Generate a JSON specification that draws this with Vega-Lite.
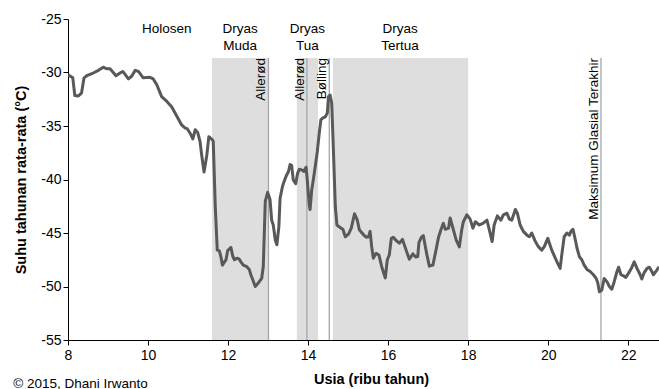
{
  "$schema": "https://vega.github.io/schema/vega-lite/v6.json",
  "width": 591,
  "height": 321,
  "autosize": {"type": "none"},
  "padding": {"left": 68, "top": 19, "right": 0, "bottom": 49},
  "background": "white",
  "config": {
    "view": {"stroke": null},
    "font": "Liberation Sans",
    "axis": {
      "domainColor": "#000000",
      "tickColor": "#000000",
      "labelColor": "#000000",
      "titleColor": "#000000",
      "grid": false,
      "tickSize": 5,
      "labelFontSize": 14,
      "labelFont": "Liberation Sans",
      "titleFont": "Liberation Sans",
      "titleFontSize": 14.5,
      "titleFontWeight": "bold"
    }
  },
  "datasets": {
    "regions": [
      {"name": "Dryas Muda", "start": 11.6, "end": 13.0},
      {"name": "Dryas Tua", "start": 13.72, "end": 14.25},
      {"name": "Dryas Tertua", "start": 14.62, "end": 18.0}
    ],
    "events": [
      {"label": "Allerød", "age": 13.01},
      {"label": "Allerød", "age": 13.97},
      {"label": "Bølling", "age": 14.53},
      {"label": "Maksimum Glasial Terakhir", "age": 21.32}
    ],
    "periods": [
      {"label": "Holosen", "age": 10.47},
      {"label": "Dryas\nMuda", "age": 12.3},
      {"label": "Dryas\nTua", "age": 13.98},
      {"label": "Dryas\nTertua", "age": 16.3}
    ],
    "temps": [
      {"age": 8.0, "temp": -30.2}, {"age": 8.12, "temp": -30.5}, {"age": 8.17, "temp": -32.15}, {"age": 8.26, "temp": -32.2},
      {"age": 8.34, "temp": -31.9}, {"age": 8.4, "temp": -30.5}, {"age": 8.47, "temp": -30.3}, {"age": 8.63, "temp": -30.05},
      {"age": 8.76, "temp": -29.8}, {"age": 8.88, "temp": -29.5}, {"age": 8.97, "temp": -29.65}, {"age": 9.05, "temp": -29.65},
      {"age": 9.2, "temp": -30.3}, {"age": 9.3, "temp": -30.05}, {"age": 9.37, "temp": -29.9}, {"age": 9.51, "temp": -30.6},
      {"age": 9.59, "temp": -30.35}, {"age": 9.68, "temp": -29.8}, {"age": 9.76, "temp": -29.9}, {"age": 9.88, "temp": -30.5},
      {"age": 10.05, "temp": -30.45}, {"age": 10.13, "temp": -30.6}, {"age": 10.22, "temp": -31.15}, {"age": 10.34, "temp": -32.25},
      {"age": 10.47, "temp": -32.7}, {"age": 10.59, "temp": -33.2}, {"age": 10.7, "temp": -33.95}, {"age": 10.84, "temp": -34.9},
      {"age": 10.93, "temp": -35.2}, {"age": 10.98, "temp": -35.25}, {"age": 11.07, "temp": -35.8}, {"age": 11.12, "temp": -36.2},
      {"age": 11.18, "temp": -35.35}, {"age": 11.24, "temp": -35.6}, {"age": 11.3, "temp": -36.45}, {"age": 11.34, "temp": -37.7},
      {"age": 11.4, "temp": -39.3}, {"age": 11.47, "temp": -37.7}, {"age": 11.52, "temp": -36.0}, {"age": 11.61, "temp": -36.3},
      {"age": 11.63, "temp": -36.45}, {"age": 11.68, "temp": -42.5}, {"age": 11.73, "temp": -46.6}, {"age": 11.78, "temp": -46.65},
      {"age": 11.82, "temp": -47.2}, {"age": 11.86, "temp": -48.0}, {"age": 11.91, "temp": -47.7}, {"age": 11.95, "temp": -47.5},
      {"age": 11.99, "temp": -46.65}, {"age": 12.07, "temp": -46.35}, {"age": 12.12, "temp": -47.2}, {"age": 12.16, "temp": -47.5},
      {"age": 12.22, "temp": -47.35}, {"age": 12.28, "temp": -47.45}, {"age": 12.32, "temp": -47.7}, {"age": 12.38, "temp": -48.0},
      {"age": 12.47, "temp": -48.15}, {"age": 12.53, "temp": -48.4}, {"age": 12.57, "temp": -48.9}, {"age": 12.62, "temp": -49.4},
      {"age": 12.68, "temp": -50.0}, {"age": 12.76, "temp": -49.65}, {"age": 12.84, "temp": -49.25}, {"age": 12.88, "temp": -48.15},
      {"age": 12.93, "temp": -42.05}, {"age": 12.99, "temp": -41.2}, {"age": 13.05, "temp": -41.9}, {"age": 13.09, "temp": -43.8},
      {"age": 13.13, "temp": -44.25}, {"age": 13.18, "temp": -45.65}, {"age": 13.22, "temp": -46.1}, {"age": 13.27, "temp": -44.4},
      {"age": 13.3, "temp": -41.75}, {"age": 13.36, "temp": -40.65}, {"age": 13.4, "temp": -40.2}, {"age": 13.45, "temp": -39.7},
      {"age": 13.51, "temp": -39.25}, {"age": 13.55, "temp": -38.6}, {"age": 13.59, "temp": -38.7}, {"age": 13.63, "temp": -40.05},
      {"age": 13.69, "temp": -40.4}, {"age": 13.74, "temp": -39.4}, {"age": 13.78, "temp": -39.05}, {"age": 13.84, "temp": -39.1},
      {"age": 13.9, "temp": -39.25}, {"age": 13.95, "temp": -38.85}, {"age": 13.98, "temp": -40.05}, {"age": 14.03, "temp": -42.4},
      {"age": 14.05, "temp": -42.8}, {"age": 14.09, "temp": -41.0}, {"age": 14.13, "temp": -40.05}, {"age": 14.19, "temp": -38.5},
      {"age": 14.23, "temp": -37.4}, {"age": 14.28, "temp": -35.65}, {"age": 14.32, "temp": -34.4}, {"age": 14.37, "temp": -34.25},
      {"age": 14.43, "temp": -34.15}, {"age": 14.48, "temp": -33.8}, {"age": 14.51, "temp": -32.25}, {"age": 14.55, "temp": -32.1},
      {"age": 14.59, "temp": -32.85}, {"age": 14.63, "temp": -36.9}, {"age": 14.68, "temp": -42.5}, {"age": 14.72, "temp": -44.25},
      {"age": 14.82, "temp": -44.55}, {"age": 14.87, "temp": -44.65}, {"age": 14.93, "temp": -45.35}, {"age": 15.01, "temp": -45.1},
      {"age": 15.08, "temp": -44.55}, {"age": 15.16, "temp": -43.2}, {"age": 15.23, "temp": -43.8}, {"age": 15.28, "temp": -44.7},
      {"age": 15.37, "temp": -45.1}, {"age": 15.45, "temp": -45.4}, {"age": 15.51, "temp": -45.35}, {"age": 15.55, "temp": -44.85},
      {"age": 15.59, "temp": -46.3}, {"age": 15.63, "temp": -47.35}, {"age": 15.7, "temp": -46.9}, {"age": 15.77, "temp": -47.05},
      {"age": 15.84, "temp": -48.15}, {"age": 15.93, "temp": -49.2}, {"age": 15.98, "temp": -47.5}, {"age": 16.03, "temp": -47.05},
      {"age": 16.08, "temp": -45.5}, {"age": 16.13, "temp": -45.4}, {"age": 16.2, "temp": -45.7}, {"age": 16.28, "temp": -45.95},
      {"age": 16.36, "temp": -45.6}, {"age": 16.45, "temp": -46.6}, {"age": 16.53, "temp": -47.45}, {"age": 16.62, "temp": -46.95},
      {"age": 16.69, "temp": -47.25}, {"age": 16.74, "temp": -47.2}, {"age": 16.77, "temp": -45.9}, {"age": 16.83, "temp": -45.4},
      {"age": 16.88, "temp": -45.25}, {"age": 16.97, "temp": -47.05}, {"age": 17.03, "temp": -48.1}, {"age": 17.12, "temp": -48.0},
      {"age": 17.18, "temp": -46.9}, {"age": 17.26, "temp": -45.4}, {"age": 17.32, "temp": -44.7}, {"age": 17.38, "temp": -44.1},
      {"age": 17.43, "temp": -44.65}, {"age": 17.51, "temp": -44.55}, {"age": 17.55, "temp": -43.6}, {"age": 17.62, "temp": -44.55},
      {"age": 17.7, "temp": -45.65}, {"age": 17.78, "temp": -46.3}, {"age": 17.84, "temp": -44.7}, {"age": 17.88, "temp": -43.95},
      {"age": 17.97, "temp": -43.3}, {"age": 18.05, "temp": -43.7}, {"age": 18.12, "temp": -44.55}, {"age": 18.18, "temp": -43.95},
      {"age": 18.28, "temp": -44.25}, {"age": 18.37, "temp": -44.1}, {"age": 18.47, "temp": -43.8}, {"age": 18.53, "temp": -44.7},
      {"age": 18.6, "temp": -45.8}, {"age": 18.65, "temp": -44.25}, {"age": 18.73, "temp": -43.4}, {"age": 18.82, "temp": -43.8},
      {"age": 18.88, "temp": -43.3}, {"age": 18.97, "temp": -43.15}, {"age": 19.03, "temp": -43.7}, {"age": 19.09, "temp": -43.8},
      {"age": 19.18, "temp": -42.8}, {"age": 19.23, "temp": -43.15}, {"age": 19.3, "temp": -44.25}, {"age": 19.38, "temp": -44.85},
      {"age": 19.47, "temp": -45.2}, {"age": 19.53, "temp": -45.35}, {"age": 19.59, "temp": -45.0}, {"age": 19.68, "temp": -45.8},
      {"age": 19.76, "temp": -46.3}, {"age": 19.84, "temp": -46.6}, {"age": 19.9, "temp": -46.3}, {"age": 19.99, "temp": -45.5},
      {"age": 20.09, "temp": -46.6}, {"age": 20.22, "temp": -47.7}, {"age": 20.3, "temp": -48.3}, {"age": 20.34, "temp": -47.05},
      {"age": 20.4, "temp": -45.35}, {"age": 20.47, "temp": -45.0}, {"age": 20.53, "temp": -45.2}, {"age": 20.57, "temp": -44.85},
      {"age": 20.62, "temp": -44.65}, {"age": 20.68, "temp": -45.65}, {"age": 20.72, "temp": -46.4}, {"age": 20.78, "temp": -47.2},
      {"age": 20.84, "temp": -47.5}, {"age": 20.9, "temp": -48.0}, {"age": 20.97, "temp": -48.4}, {"age": 21.05, "temp": -48.6},
      {"age": 21.13, "temp": -48.9}, {"age": 21.2, "temp": -49.25}, {"age": 21.24, "temp": -49.65}, {"age": 21.28, "temp": -50.5},
      {"age": 21.34, "temp": -50.35}, {"age": 21.4, "temp": -49.25}, {"age": 21.47, "temp": -49.55}, {"age": 21.53, "temp": -50.0},
      {"age": 21.59, "temp": -50.25}, {"age": 21.65, "temp": -49.55}, {"age": 21.72, "temp": -48.6}, {"age": 21.76, "temp": -48.2},
      {"age": 21.82, "temp": -48.9}, {"age": 21.88, "temp": -49.0}, {"age": 21.94, "temp": -49.15}, {"age": 22.01, "temp": -48.75},
      {"age": 22.08, "temp": -48.3}, {"age": 22.15, "temp": -47.7}, {"age": 22.22, "temp": -48.3}, {"age": 22.3, "temp": -48.9},
      {"age": 22.34, "temp": -49.3}, {"age": 22.4, "temp": -48.7}, {"age": 22.47, "temp": -48.3}, {"age": 22.53, "temp": -48.2},
      {"age": 22.59, "temp": -48.6}, {"age": 22.63, "temp": -48.9}, {"age": 22.72, "temp": -48.45}, {"age": 22.77, "temp": -48.15}
    ],
    "credit": [{"label": "© 2015, Dhani Irwanto", "age": 6.63, "temp": -58.5}]
  },
  "resolve": {"scale": {"x": "shared", "y": "shared"}},
  "layer": [
    {
      "data": {"name": "regions"},
      "mark": {"type": "rect", "color": "#dedede"},
      "encoding": {
        "x": {"field": "start", "type": "quantitative", "scale": {"domain": [8, 22.77], "nice": false, "zero": false},
              "axis": {"values": [8, 10, 12, 14, 16, 18, 20, 22], "title": "Usia (ribu tahun)", "labelPadding": 3, "titlePadding": 10, "titleX": 303, "labelFlush": false}},
        "x2": {"field": "end"},
        "y": {"datum": -28.65, "type": "quantitative", "scale": {"domain": [-55, -25], "nice": false, "zero": false},
              "axis": {"values": [-55, -50, -45, -40, -35, -30, -25], "labelExpr": "'' + datum.value", "title": "Suhu tahunan rata-rata (°C)", "labelPadding": 2, "titlePadding": 12}},
        "y2": {"datum": -55}
      }
    },
    {
      "data": {"name": "events"},
      "mark": {"type": "rule", "color": "#a6a6a6", "strokeWidth": 1.3},
      "encoding": {
        "x": {"field": "age", "type": "quantitative"},
        "y": {"datum": -28.65, "type": "quantitative"},
        "y2": {"datum": -55}
      }
    },
    {
      "data": {"name": "temps"},
      "mark": {"type": "line", "color": "#595959", "strokeWidth": 3, "clip": true, "strokeJoin": "round"},
      "encoding": {
        "x": {"field": "age", "type": "quantitative"},
        "y": {"field": "temp", "type": "quantitative"}
      }
    },
    {
      "data": {"name": "events"},
      "mark": {"type": "text", "angle": 270, "align": "right", "baseline": "alphabetic", "dy": -3, "fontSize": 13.5, "color": "#000000"},
      "encoding": {
        "x": {"field": "age", "type": "quantitative"},
        "y": {"datum": -28.65, "type": "quantitative"},
        "text": {"field": "label"}
      }
    },
    {
      "data": {"name": "periods"},
      "mark": {"type": "text", "align": "center", "baseline": "alphabetic", "lineBreak": "\n", "lineHeight": 17, "fontSize": 13.5, "color": "#000000"},
      "encoding": {
        "x": {"field": "age", "type": "quantitative"},
        "y": {"datum": -26.33, "type": "quantitative"},
        "text": {"field": "label"}
      }
    },
    {
      "data": {"name": "credit"},
      "mark": {"type": "text", "align": "left", "baseline": "top", "fontSize": 13.5, "color": "#000000", "clip": false},
      "encoding": {
        "x": {"field": "age", "type": "quantitative"},
        "y": {"field": "temp", "type": "quantitative"},
        "text": {"field": "label"}
      }
    }
  ]
}
